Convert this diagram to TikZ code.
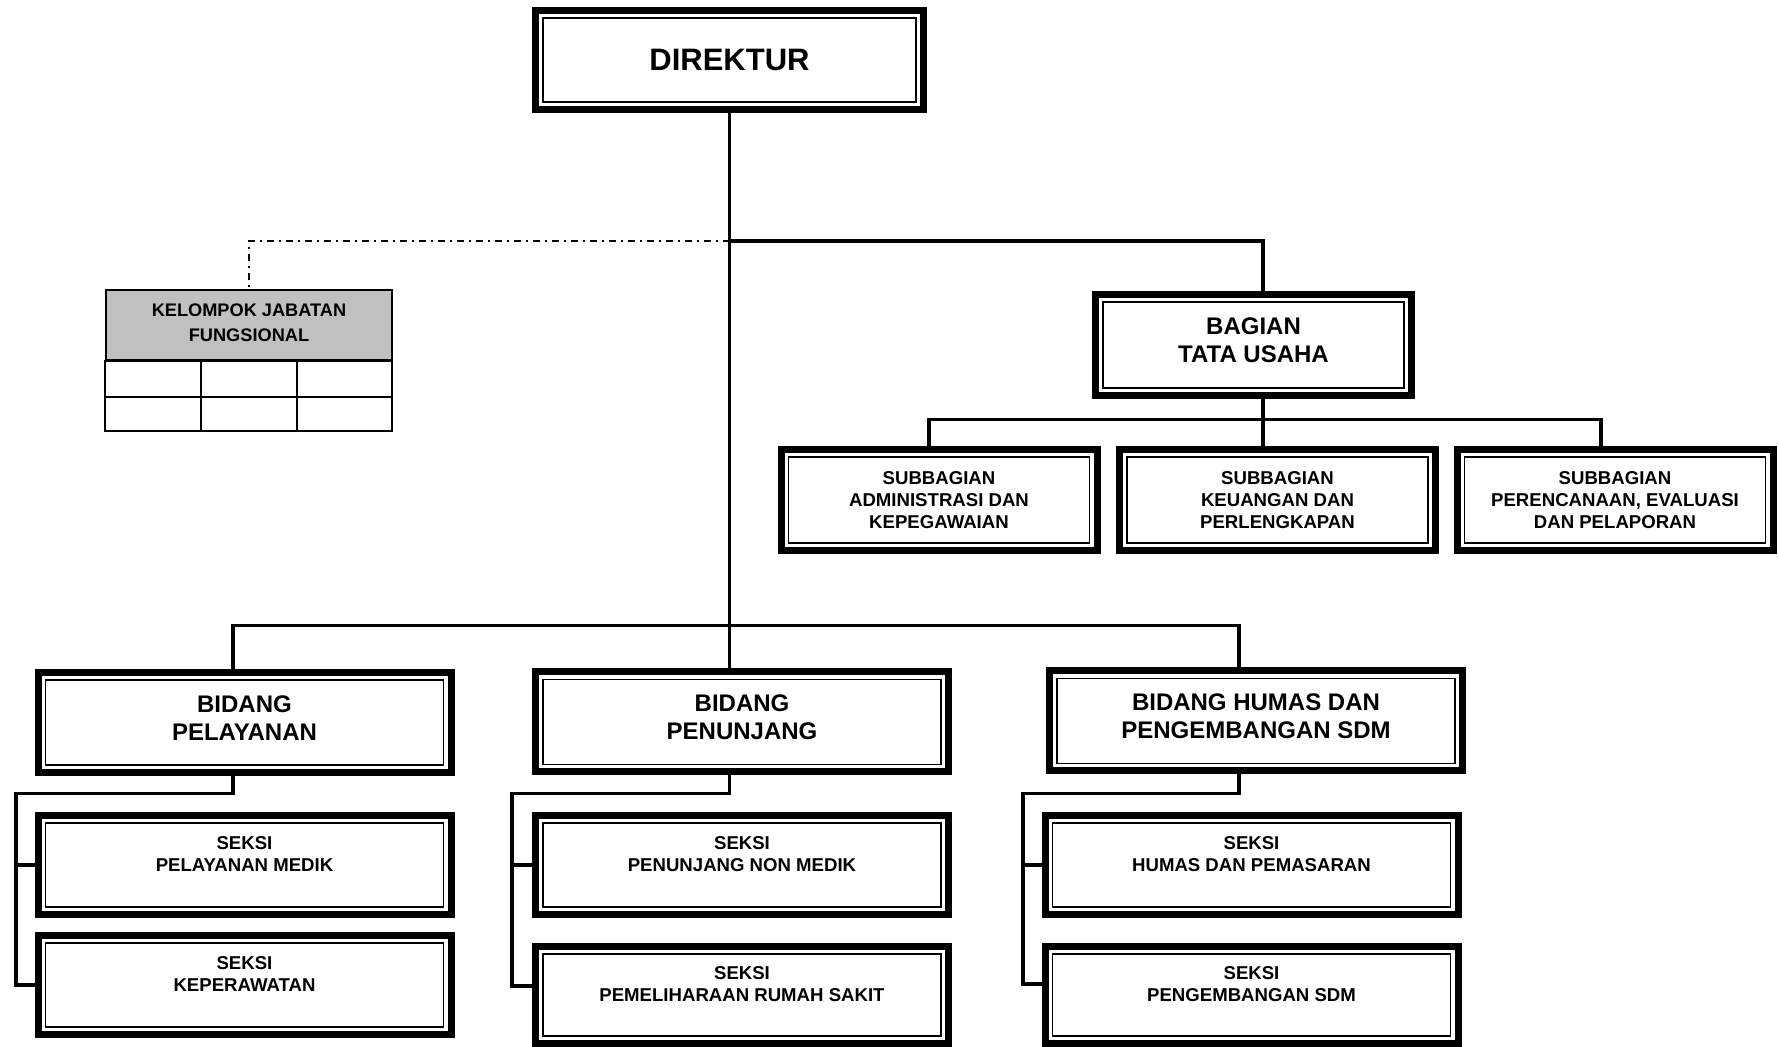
\documentclass[tikz,border=0pt]{standalone}
\usepackage{fontspec}
\setmainfont{Liberation Sans}
\usetikzlibrary{calc}
\definecolor{hdrgray}{RGB}{192,192,192}

\tikzset{
  % framed unit: heavy outer rule with a thin rule inset inside it
  orgbox/.style={draw, line width=3.5pt, fill=white, inner sep=0pt, align=center,
    path picture={\draw[line width=0.75pt]
      ([shift={(3.65pt,-3.65pt)}]path picture bounding box.north west) rectangle
      ([shift={(-3.65pt,3.65pt)}]path picture bounding box.south east);}},
  topbox/.style={orgbox, minimum width=194pt, minimum height=49.5pt,
    font=\bfseries\fontsize{15.5}{18}\selectfont},
  midbox/.style={orgbox, minimum width=206.5pt, minimum height=50pt,
    font=\bfseries\fontsize{12}{14}\selectfont},
  tubox/.style={orgbox, minimum width=158pt, minimum height=50.5pt,
    font=\bfseries\fontsize{12}{14}\selectfont},
  subbox/.style={orgbox, minimum width=158pt, minimum height=50.5pt,
    font=\bfseries\fontsize{9.3}{11}\selectfont},
  secbox/.style={orgbox, minimum width=206.5pt, minimum height=49.5pt,
    font=\bfseries\fontsize{9.3}{11}\selectfont},
  link/.style={line width=1.9pt, line join=miter},
  advisory/.style={line width=1pt, dash pattern=on 3.5pt off 2.5pt on 1pt off 2.5pt},
  tbl/.style={line width=1pt},
}
% trailing spacer row that lifts two-line titles slightly above centre
\newcommand{\liftrow}[1]{\\[-#1]\mbox{}}

\begin{document}
\begin{tikzpicture}[x=0.5pt, y=-0.5pt]
\useasboundingbox (0,0) rectangle (1779,1047);

% --- top level
\node[topbox] (dir) at (729.5,60) {DIREKTUR};

% --- secretariat branch
\node[tubox] (tu) at (1253.5,345) {BAGIAN\\TATA USAHA\liftrow{9.5pt}};
\node[subbox] (sb1) at (939,500) {SUBBAGIAN\\ADMINISTRASI DAN\\KEPEGAWAIAN};
\node[subbox] (sb2) at (1277.5,500) {SUBBAGIAN\\KEUANGAN DAN\\PERLENGKAPAN};
\node[subbox] (sb3) at (1615,500) {SUBBAGIAN\\PERENCANAAN, EVALUASI\\DAN PELAPORAN};

% --- functional group table
\node[draw, tbl, fill=hdrgray, inner sep=0pt, align=center,
      minimum width=143pt, minimum height=35.25pt,
      font=\bfseries\fontsize{9.1}{12.3}\selectfont]
      (kjf) at (249,325.25) {KELOMPOK JABATAN\\FUNGSIONAL\liftrow{9.5pt}};
\coordinate (kjfbot) at (392,431);
\draw[tbl] (kjf.south west) rectangle (kjfbot);
\draw[tbl] (kjf.south west |- 0,397) -- (kjfbot |- 0,397);
\draw[tbl] (201,0 |- kjf.south) -- (201,431);
\draw[tbl] (297,0 |- kjf.south) -- (297,431);

% --- divisions
\node[midbox] (bpel) at (244.5,722.5) {BIDANG\\PELAYANAN\liftrow{9.5pt}};
\node[midbox] (bpen) at (742,722) {BIDANG\\PENUNJANG\liftrow{9.5pt}};
\node[midbox] (bhum) at (1256,721) {BIDANG HUMAS DAN\\PENGEMBANGAN SDM\liftrow{9.5pt}};

% --- sections
\node[secbox] (s1) at (244.5,865) {SEKSI\\PELAYANAN MEDIK\\\mbox{}};
\node[secbox] (s2) at (244.5,985) {SEKSI\\KEPERAWATAN\\\mbox{}};
\node[secbox] (s3) at (742,865) {SEKSI\\PENUNJANG NON MEDIK\\\mbox{}};
\node[secbox, minimum height=48.5pt] (s4) at (742,995) {SEKSI\\PEMELIHARAAN RUMAH SAKIT\\\mbox{}};
\node[secbox] (s5) at (1251.5,865) {SEKSI\\HUMAS DAN PEMASARAN\\\mbox{}};
\node[secbox, minimum height=48.5pt] (s6) at (1251.5,995) {SEKSI\\PENGEMBANGAN SDM\\\mbox{}};

% --- junction points
\coordinate (jtop) at (729.5,241);
\coordinate (tux) at (1263,241);
\coordinate (kjx) at (249,241);
\coordinate (tub) at (1263,419.5);
\coordinate (sbl) at (929,419.5);
\coordinate (sbr) at (1601,419.5);
\coordinate (bl) at (233,625.5);
\coordinate (br) at (1239,625.5);
\coordinate (pd) at (233,793.5);
\coordinate (pv) at (15.7,793.5);
\coordinate (nd) at (729.5,793.5);
\coordinate (nv) at (511.7,793.5);
\coordinate (n4) at (511.7,986);
\coordinate (hd) at (1239,793.5);
\coordinate (hv) at (1023,793.5);
\coordinate (h6) at (1023,984);

% --- main trunk and secretariat
\draw[link] (dir.south) -- (dir.south |- bpen.north);
\draw[link] (jtop) -- (tux) -- (tux |- tu.north);
\draw[advisory] (jtop) -- (kjx) -- (kjx |- kjf.north);
\draw[link] (tub |- tu.south) -- (tub |- sb2.north);
\draw[link] (sbl |- sb1.north) -- (sbl) -- (sbr) -- (sbr |- sb3.north);

% --- divisions bar
\draw[link] (bl |- bpel.north) -- (bl) -- (br) -- (br |- bhum.north);

% --- section brackets
\draw[link] (pd |- bpel.south) -- (pd) -- (pv) -- (pv |- s2.west) -- (s2.west);
\draw[link] (pv |- s1.west) -- (s1.west);

\draw[link] (nd |- bpen.south) -- (nd) -- (nv) -- (n4) -- (n4 -| s4.west);
\draw[link] (nv |- s3.west) -- (s3.west);

\draw[link] (hd |- bhum.south) -- (hd) -- (hv) -- (h6) -- (h6 -| s6.west);
\draw[link] (hv |- s5.west) -- (s5.west);
\end{tikzpicture}
\end{document}
